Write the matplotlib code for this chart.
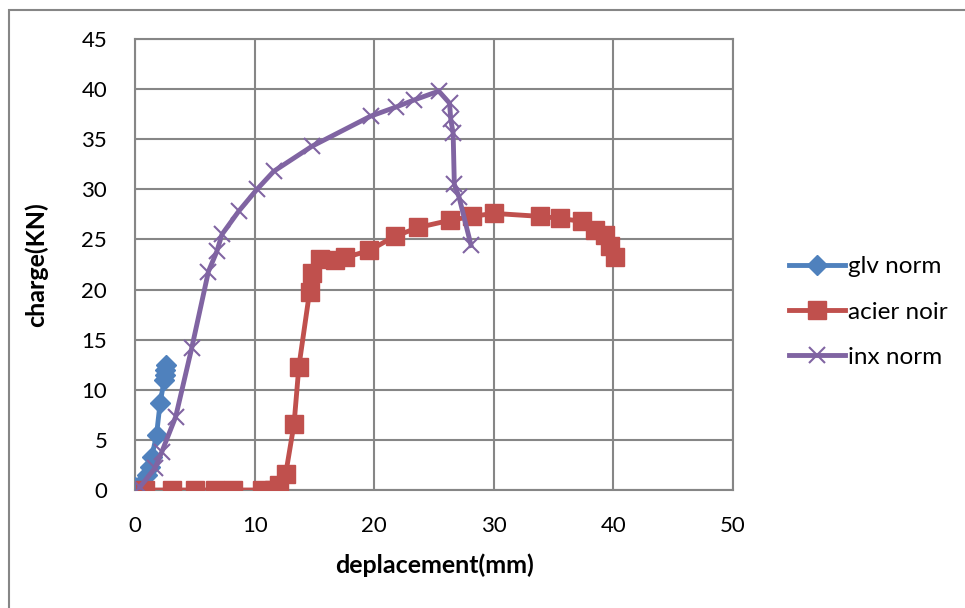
import matplotlib.pyplot as plt
from matplotlib.patches import Rectangle

plt.rcParams['font.family'] = ['Lato', 'DejaVu Sans']

# glv norm
glv_x = [0.0, 0.7, 1.0, 1.26, 1.4, 1.8, 2.1, 2.45, 2.5, 2.55, 2.6]
glv_y = [0.3, 0.8, 1.5, 2.3, 3.3, 5.5, 8.7, 11.0, 11.5, 12.0, 12.5]

# acier noir
acier_x = [0.84, 3.07, 5.0, 6.7, 8.2, 10.6, 11.6, 12.0, 12.6, 13.3, 13.7, 14.6, 14.8,
           15.45, 16.7, 17.6, 19.6, 21.7, 23.7, 26.3, 28.2, 30.0, 33.9, 35.5, 37.4,
           38.5, 39.3, 39.7, 40.1]
acier_y = [0.0, 0.0, 0.0, 0.0, 0.0, 0.0, 0.0, 0.5, 1.6, 6.6, 12.3, 19.8, 21.7,
           23.0, 22.9, 23.2, 23.9, 25.3, 26.2, 26.9, 27.3, 27.6, 27.3, 27.1, 26.8,
           25.9, 25.4, 24.3, 23.2]

# inx norm
inx_x = [0.42, 1.68, 2.24, 3.4, 4.75, 6.14, 6.84, 7.27, 8.66, 10.2, 11.6, 14.8,
         19.7, 21.8, 23.3, 25.4, 26.3, 26.4, 26.6, 26.7, 27.1, 28.1]
inx_y = [0.3, 2.2, 3.8, 7.3, 14.2, 21.8, 23.8, 25.5, 27.8, 30.0, 31.8, 34.3,
         37.3, 38.2, 38.9, 39.8, 38.6, 37.0, 35.6, 30.5, 29.2, 24.4]

blue = '#4F81BD'
red = '#C0504D'
purple = '#8064A2'
grid_c = '#868686'

fig = plt.figure(figsize=(9.65, 6.08), dpi=100)
ax = fig.add_axes([135/965, 1 - 490/608, (733-135)/965, (490-39)/608])

ax.plot(glv_x, glv_y, color=blue, lw=3.5, marker='D', ms=10, mfc=blue, mec=blue,
        label='glv norm', zorder=3)
ax.plot(acier_x, acier_y, color=red, lw=3.5, marker='s', ms=13, mfc=red, mec=red,
        label='acier noir', zorder=3)
ax.plot(inx_x, inx_y, color=purple, lw=3.5, marker='x', ms=11, mew=1.5, mec=purple,
        label='inx norm', zorder=4)

ax.set_xlim(0, 50)
ax.set_ylim(0, 45)
ax.set_xticks(range(0, 51, 10))
ax.set_yticks(range(0, 46, 5))
ax.grid(True, color=grid_c, lw=1.5)
ax.set_axisbelow(True)
for s in ax.spines.values():
    s.set_color(grid_c)
    s.set_linewidth(1.5)
ax.tick_params(length=0, labelsize=16)
ax.tick_params(axis='x', pad=19)
ax.tick_params(axis='y', pad=20)

ax.set_xlabel('deplacement(mm)', fontsize=18, fontweight='bold')
ax.set_ylabel('charge(KN)', fontsize=18, fontweight='bold')
ax.xaxis.set_label_coords((434-135)/598, (490-553)/451)
ax.yaxis.set_label_coords((48-135)/598, (490-265)/451)

fig.legend(handles=ax.get_lines(), loc='center left', bbox_to_anchor=(767/965, 1 - 312/608),
           frameon=False, fontsize=17.5, handlelength=2.3, handletextpad=0.15, labelspacing=1.0)

# outer chart border
fig.patches.append(Rectangle((9/965, -0.1), 1.2, 1 - 10/608 + 0.1, transform=fig.transFigure,
                             fill=False, edgecolor=grid_c, lw=1.5))

fig.savefig('out.png', dpi=100)
